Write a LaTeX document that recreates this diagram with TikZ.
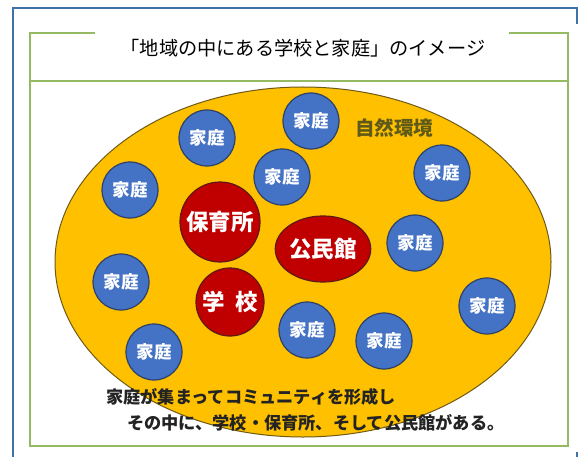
\documentclass[tikz,border=0pt]{standalone}
\usepackage{fontspec}
\usetikzlibrary{shapes.geometric}
\newfontfamily\jp{Noto Sans CJK JP}
\definecolor{framblue}{RGB}{65,112,170}
\definecolor{framgreen}{RGB}{150,185,100}
\definecolor{envfill}{RGB}{255,192,0}
\definecolor{envedge}{RGB}{110,90,20}
\definecolor{fambl}{RGB}{68,114,196}
\definecolor{famedge}{RGB}{45,65,105}
\definecolor{instred}{RGB}{192,0,0}
\definecolor{instedge}{RGB}{95,25,25}
\definecolor{envtext}{RGB}{95,90,25}
\definecolor{captext}{RGB}{35,35,35}
\tikzset{
  fam/.style={circle, fill=fambl, draw=famedge, line width=1.2pt, minimum size=56pt,
    inner sep=0pt, text=white, font=\jp\bfseries\fontsize{17.5}{17.5}\selectfont},
  inst/.style={circle, fill=instred, draw=instedge, line width=1.2pt, inner sep=0pt,
    text=white, font=\jp\bfseries\fontsize{22.5}{22.5}\selectfont},
  captxt/.style={anchor=west, inner sep=0pt, text=captext, font=\jp\bfseries\fontsize{17.2}{17.2}\selectfont}
}
\begin{document}
\begin{tikzpicture}[x=1pt,y=-1pt]
\useasboundingbox (0,0) rectangle (580,457);
\fill[white] (0,0) rectangle (580,457);
% blue frame
\draw[framblue, line width=2pt] (13,470) -- (13,8) -- (577,8) -- (577,24);
\draw[framblue, line width=2pt] (577,452) -- (577,470);
% green frame
\draw[framgreen, line width=2pt] (30,33) rectangle (568,446);
\draw[framgreen, line width=2pt] (30,81) -- (568,81);
% title
\fill[white] (95,24) rectangle (509,72);
\node[inner sep=0pt, font=\jp\fontsize{19.2}{19.2}\selectfont] (title) at (303,48) {「地域の中にある学校と家庭」のイメージ};
% environment ellipse
\draw[fill=envfill, draw=envedge, line width=1pt] (303,262) ellipse [x radius=248pt, y radius=175pt];
\node[text=envtext, inner sep=0pt, font=\jp\bfseries\fontsize{19.5}{19.5}\selectfont] (env) at (394,128) {自然環境};
% families
\node[fam] (f1) at (207,138) {家庭};
\node[fam] (f2) at (311,121) {家庭};
\node[fam] (f3) at (282,177) {家庭};
\node[fam] (f4) at (130,190) {家庭};
\node[fam] (f5) at (442,173) {家庭};
\node[fam] (f6) at (415,243) {家庭};
\node[fam] (f7) at (487,306) {家庭};
\node[fam] (f8) at (121,282) {家庭};
\node[fam] (f9) at (307,330) {家庭};
\node[fam] (f10) at (384,341) {家庭};
\node[fam] (f11) at (154,352) {家庭};
% institutions
\node[inst, minimum size=80pt] (hoiku) at (220,222) {保育所};
\node[inst, ellipse, minimum width=80pt, minimum height=66pt] (kominkan) at (323,249) {公民館};
\node[inst, minimum size=68pt] (gakko) at (230,302) {学\hspace{0.45em}校};
% captions
\node[captxt] (c1) at (106,397) {家庭が集まってコミュニティを形成し};
\node[captxt] (c2) at (127,423) {その中に、学校・保育所、そして公民館がある。};
\end{tikzpicture}
\end{document}
